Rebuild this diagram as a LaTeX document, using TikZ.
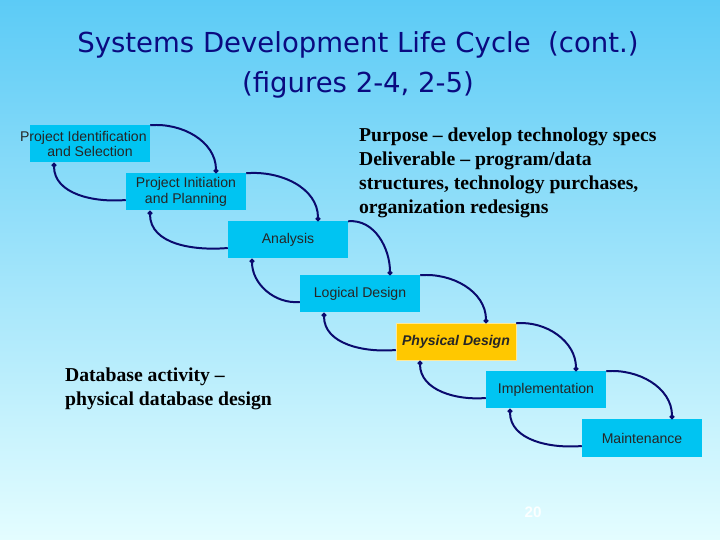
\documentclass[tikz,border=0pt]{standalone}
\usepackage{fontspec}
\setsansfont{Liberation Sans}
\setmainfont{Liberation Serif}
\newfontfamily\titlefont{DejaVu Sans}
\usetikzlibrary{arrows.meta}
\definecolor{bgtop}{HTML}{5CCBF6}
\definecolor{bgbot}{HTML}{E4FDFF}
\definecolor{boxblue}{HTML}{00C4F2}
\definecolor{boxgold}{HTML}{FFC800}
\definecolor{arrblue}{HTML}{0A0A6E}
\definecolor{titleblue}{HTML}{0A0A80}
\tikzset{
  phase/.style={fill=boxblue, minimum width=120*0.03cm, minimum height=37*0.03cm,
    inner sep=0pt, align=center, font=\sffamily\fontsize{12}{13.5}\selectfont, text=black!85},
  loop/.style={draw=arrblue, line width=1.7pt, -{Circle[length=4pt]}}
}
\begin{document}
\begin{tikzpicture}[x=0.03cm, y=-0.03cm]
    % Background
    \shade[top color=bgtop, bottom color=bgbot] (0,0) rectangle (720,540);
    \useasboundingbox (0,0) rectangle (720,540);

    % Title
    \node[font=\titlefont\fontsize{23.5}{34}\selectfont, text=titleblue, align=center] (title) at (358,65)
        {Systems Development Life Cycle\ \ (cont.)\\(figures 2-4, 2-5)};

    % Phases
    \node[phase] (ident) at (90,144) {\hspace*{-4mm}Project Identification\\and Selection};
    \node[phase] (init) at (186,192) {Project Initiation\\and Planning};
    \node[phase] (anal) at (288,240) {Analysis};
    \node[phase] (logic) at (360,294) {Logical Design};
    \node[phase, fill=boxgold, draw=white!60!boxgold, font=\sffamily\bfseries\itshape\fontsize{12}{13.5}\selectfont] (phys) at (456,342) {Physical Design};
    \node[phase] (impl) at (546,390) {Implementation};
    \node[phase] (maint) at (642,438) {Maintenance};

    % Forward and backward loops
    \foreach \a/\b in {ident/init, init/anal, anal/logic, logic/phys, phys/impl, impl/maint}{
        \draw[loop] (\a.north east) to[out=5, in=90] ([xshift=30*0.03cm]\b.north);
        \draw[loop] (\b.west) ++(0,8) to[out=185, in=-90] ([xshift=-36*0.03cm]\a.south);
    }

    % Notes
    \node[font=\rmfamily\bfseries\fontsize{16.8}{20.5}\selectfont, align=left, anchor=north west] (purpose) at (355,124)
        {Purpose -- develop technology specs\\Deliverable -- program/data\\structures, technology purchases,\\organization redesigns};
    \node[font=\rmfamily\bfseries\fontsize{16.8}{20.5}\selectfont, align=left, anchor=north west] (dbnote) at (61,364)
        {Database activity --\\physical database design};

    % Page number
    \node[font=\sffamily\bfseries\fontsize{13}{15}\selectfont, text=white!85!bgbot] (page) at (533,512) {20};
\end{tikzpicture}
\end{document}
